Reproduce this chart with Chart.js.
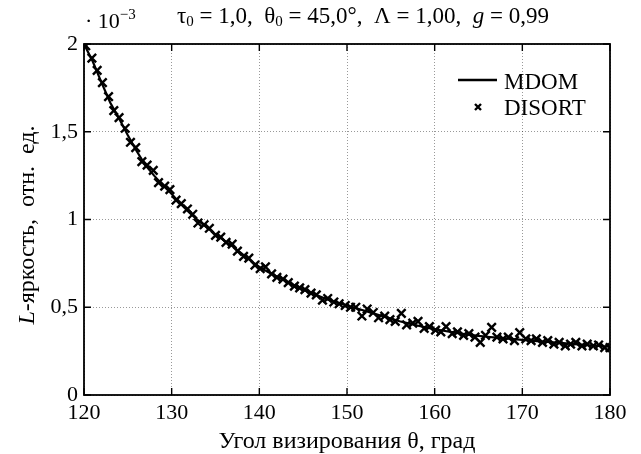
<!DOCTYPE html>
<html>
<head>
<meta charset="UTF-8" />
<title>MDOM vs DISORT</title>
<script src="https://cdn.jsdelivr.net/npm/chart.js"></script>
<style>
  html, body { margin: 0; padding: 0; background: #fff; overflow: hidden; }
</style>
</head>
<body>
<canvas id="myChart" width="641" height="454"></canvas>
<script>
// brightness values are in units of 10^-3 (axis shows the "· 10^-3" multiplier)
const mdomAngles = [120, 121, 122, 123, 124, 125, 126, 127, 128, 129,
                    130, 131, 132, 133, 134, 135, 136, 137, 138, 139,
                    140, 141, 142, 143, 144, 145, 146, 147, 148, 149,
                    150, 151, 152, 153, 154, 155, 156, 157, 158, 159,
                    160, 161, 162, 163, 164, 165, 166, 167, 168, 169,
                    170, 171, 172, 173, 174, 175, 176, 177, 178, 179, 180];
const mdomValues = [2.000, 1.900, 1.780, 1.665, 1.575, 1.480, 1.390, 1.310, 1.250, 1.195,
                    1.145, 1.090, 1.040, 0.995, 0.955, 0.915, 0.880, 0.845, 0.805, 0.765,
                    0.730, 0.700, 0.675, 0.650, 0.625, 0.600, 0.580, 0.560, 0.540, 0.525,
                    0.510, 0.495, 0.480, 0.465, 0.450, 0.435, 0.420, 0.408, 0.396, 0.385,
                    0.375, 0.366, 0.358, 0.350, 0.343, 0.337, 0.332, 0.327, 0.322, 0.318,
                    0.314, 0.310, 0.306, 0.302, 0.298, 0.294, 0.290, 0.286, 0.282, 0.278, 0.275];

const disortAngles = [120.2, 120.9, 121.5, 122.1, 122.8, 123.4, 124.0, 124.7, 125.3, 125.9,
                      126.6, 127.2, 127.9, 128.5, 129.2, 129.8, 130.5, 131.1, 131.8, 132.4,
                      133.0, 133.7, 134.3, 135.0, 135.6, 136.2, 136.9, 137.5, 138.2, 138.8,
                      139.5, 140.1, 140.7, 141.4, 142.0, 142.7, 143.3, 144.0, 144.6, 145.2,
                      145.9, 146.5, 147.2, 147.8, 148.5, 149.1, 149.8, 150.4, 151.0, 151.7,
                      152.3, 153.0, 153.6, 154.3, 154.9, 155.5, 156.2, 156.8, 157.5, 158.1,
                      158.8, 159.4, 160.1, 160.7, 161.3, 162.0, 162.6, 163.3, 163.9, 164.6,
                      165.2, 165.8, 166.5, 167.1, 167.8, 168.4, 169.1, 169.7, 170.4, 171.0,
                      171.6, 172.3, 172.9, 173.6, 174.2, 174.9, 175.5, 176.1, 176.8, 177.4,
                      178.1, 178.7, 179.4, 180.0];
const disortValues = [1.99, 1.92, 1.85, 1.78, 1.70, 1.62, 1.58, 1.52, 1.44, 1.41,
                      1.33, 1.31, 1.28, 1.21, 1.19, 1.17, 1.11, 1.09, 1.06, 1.03,
                      0.98, 0.97, 0.95, 0.91, 0.90, 0.87, 0.86, 0.82, 0.79, 0.78,
                      0.74, 0.72, 0.73, 0.69, 0.67, 0.66, 0.64, 0.62, 0.61, 0.60,
                      0.58, 0.57, 0.54, 0.55, 0.53, 0.52, 0.51, 0.50, 0.50, 0.45,
                      0.49, 0.47, 0.44, 0.45, 0.43, 0.42, 0.465, 0.40, 0.41, 0.42,
                      0.38, 0.39, 0.37, 0.36, 0.39, 0.35, 0.36, 0.34, 0.35, 0.33,
                      0.30, 0.34, 0.385, 0.33, 0.32, 0.33, 0.31, 0.355, 0.32, 0.31,
                      0.32, 0.30, 0.31, 0.29, 0.30, 0.28, 0.29, 0.30, 0.28, 0.29,
                      0.28, 0.285, 0.27, 0.27];

const xTicks = [120, 130, 140, 150, 160, 170, 180];
const yTicks = [0, 0.5, 1, 1.5, 2];

const serif = '"Liberation Serif", "Times New Roman", serif';

// draw a row of text pieces with different fonts / offsets
function drawRuns(ctx, runs, x, y, align) {
    let total = 0;
    runs.forEach(r => { ctx.font = r.font; r.w = ctx.measureText(r.t).width; total += r.w; });
    let cx = align === 'center' ? x - total / 2 : x;
    runs.forEach(r => {
        ctx.font = r.font;
        ctx.fillText(r.t, cx, y + (r.dy || 0));
        cx += r.w;
    });
}

const decorations = {
    id: 'decorations',
    afterDraw(chart) {
        const { ctx, chartArea: a, scales: { x, y } } = chart;
        ctx.save();
        ctx.strokeStyle = '#000';
        ctx.fillStyle = '#000';

        // frame
        ctx.lineWidth = 1.8;
        ctx.strokeRect(a.left, a.top, a.right - a.left, a.bottom - a.top);

        // inward tick marks on all four sides
        ctx.lineWidth = 1.4;
        ctx.beginPath();
        xTicks.forEach(v => {
            const px = x.getPixelForValue(v);
            ctx.moveTo(px, a.bottom); ctx.lineTo(px, a.bottom - 7);
            ctx.moveTo(px, a.top); ctx.lineTo(px, a.top + 7);
        });
        yTicks.forEach(v => {
            const py = y.getPixelForValue(v);
            ctx.moveTo(a.left, py); ctx.lineTo(a.left + 7, py);
            ctx.moveTo(a.right, py); ctx.lineTo(a.right - 7, py);
        });
        ctx.stroke();

        ctx.textBaseline = 'alphabetic';
        ctx.textAlign = 'left';

        // title
        const f = '23px ' + serif, fs = '15px ' + serif, fi = 'italic 23px ' + serif;
        drawRuns(ctx, [
            { t: 'τ', font: f }, { t: '0', font: fs, dy: 3 },
            { t: ' = 1,0,  θ', font: f }, { t: '0', font: fs, dy: 3 },
            { t: ' = 45,0°,  Λ = 1,00,  ', font: f },
            { t: 'g', font: fi }, { t: ' = 0,99', font: f }
        ], 363, 23, 'center');

        // multiplier above y axis
        drawRuns(ctx, [
            { t: '· 10', font: '22px ' + serif },
            { t: '−3', font: '15px ' + serif, dy: -9 }
        ], a.left + 1, 28, 'left');

        // x axis title
        ctx.font = '24px ' + serif;
        ctx.textAlign = 'center';
        ctx.fillText('Угол визирования θ, град', (a.left + a.right) / 2, 448);

        // y axis title (rotated)
        ctx.save();
        ctx.translate(34, 225);
        ctx.rotate(-Math.PI / 2);
        ctx.textAlign = 'left';
        drawRuns(ctx, [
            { t: 'L', font: 'italic 24px ' + serif },
            { t: '-яркость,  отн.  ед.', font: '24px ' + serif }
        ], 0, 0, 'center');
        ctx.restore();

        // legend
        const ds = chart.data.datasets;
        ctx.textAlign = 'left';
        ctx.font = '23px ' + serif;
        ctx.lineWidth = 2.4;
        ctx.beginPath();
        ctx.moveTo(458, 80); ctx.lineTo(497, 80);
        ctx.stroke();
        ctx.fillText(ds[0].label, 504, 89);
        ctx.lineWidth = 2.4;
        ctx.beginPath();
        ctx.moveTo(475, 104); ctx.lineTo(481, 110);
        ctx.moveTo(481, 104); ctx.lineTo(475, 110);
        ctx.stroke();
        ctx.fillText(ds[1].label, 504, 115);

        ctx.restore();
    }
};

const mdomPoints = mdomAngles.map((a, i) => ({ x: a, y: mdomValues[i] }));
const disortPoints = disortAngles.map((a, i) => ({ x: a, y: disortValues[i] }));

const ctx = document.getElementById('myChart').getContext('2d');
const myChart = new Chart(ctx, {
    type: 'scatter',
    data: {
        datasets: [{
            label: 'MDOM',
            type: 'line',
            data: mdomPoints,
            borderColor: '#000',
            borderWidth: 2.2,
            pointRadius: 0,
            tension: 0,
            fill: false
        },
        {
            label: 'DISORT',
            data: disortPoints,
            pointStyle: 'crossRot',
            pointRadius: 6,
            borderColor: '#000',
            backgroundColor: '#000',
            pointBorderWidth: 2.4
        }]
    },
    options: {
        responsive: false,
        animation: false,
        layout: { padding: { top: 44, right: 31, left: 0, bottom: 0 } },
        plugins: {
            legend: { display: false },
            tooltip: { enabled: false }
        },
        scales: {
            x: {
                type: 'linear',
                min: 120,
                max: 180,
                afterFit: s => { s.height = 59; },
                afterBuildTicks: s => { s.ticks = xTicks.map(v => ({ value: v })); },
                ticks: {
                    color: '#000',
                    font: { family: serif, size: 22 },
                    padding: 5
                },
                grid: { color: 'rgba(0,0,0,0.4)', lineWidth: 1, drawTicks: false },
                border: { display: false, dash: [1, 2] }
            },
            y: {
                min: 0,
                max: 2,
                afterFit: s => { s.width = 84; },
                afterBuildTicks: s => { s.ticks = yTicks.map(v => ({ value: v })); },
                ticks: {
                    color: '#000',
                    font: { family: serif, size: 22 },
                    padding: 6,
                    callback: v => String(v).replace('.', ',')
                },
                grid: { color: 'rgba(0,0,0,0.4)', lineWidth: 1, drawTicks: false },
                border: { display: false, dash: [1, 2] }
            }
        }
    },
    plugins: [decorations]
});
</script>
</body>
</html>
